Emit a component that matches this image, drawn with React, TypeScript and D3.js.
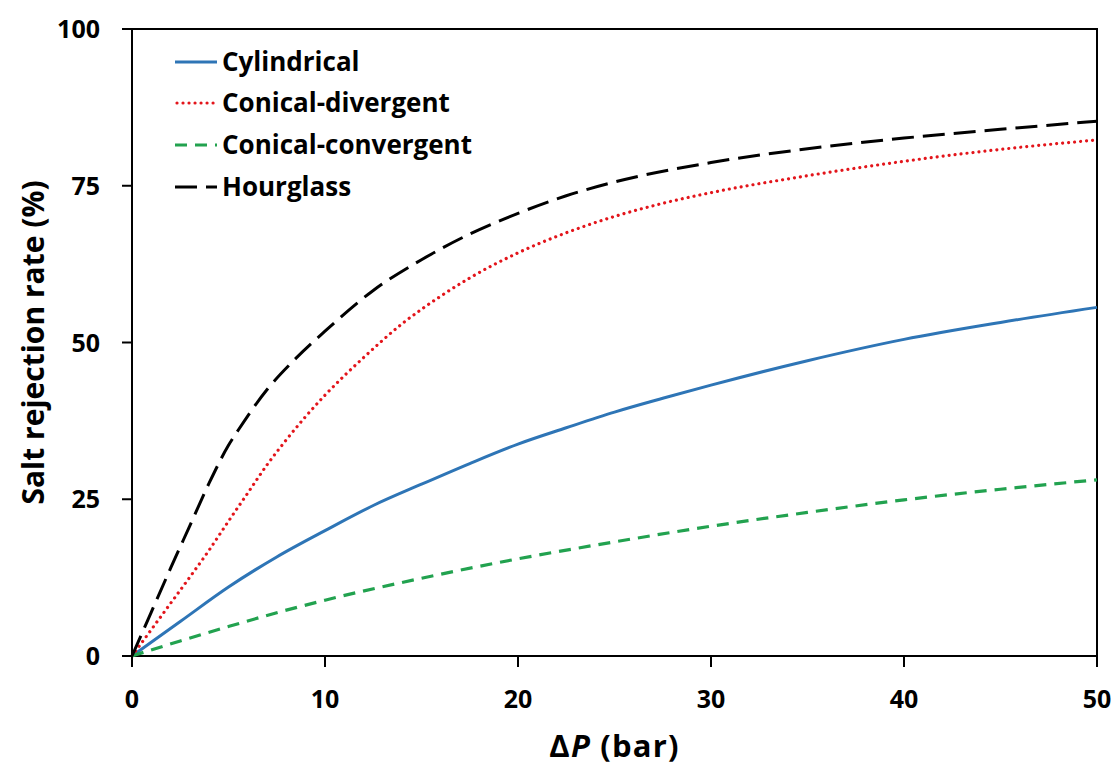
import React from "react";
import * as d3 from "d3";

const W = 1118;
const H = 765;

const xTicks = [0, 10, 20, 30, 40, 50];
const yTicks = [0, 25, 50, 75, 100];

const cylP = [0, 2.5, 5, 7.5, 10, 12.5, 15, 17.5, 20, 22.5, 25, 27.5, 30, 35, 40, 45, 50];
const cylV = [0, 5.5, 11, 15.8, 20, 24, 27.4, 30.7, 33.8, 36.4, 38.9, 41.1, 43.2, 47.1, 50.5, 53.2, 55.6];

const divP = [0, 1, 2, 3, 4, 5, 6, 7, 8, 9, 10, 11, 12, 13, 14, 15, 16, 17.5, 20, 22.5, 25, 27.5, 30, 35, 40, 45, 50];
const divV = [0, 4.2, 8.4, 12.6, 16.9, 21.5, 26, 30.5, 34.5, 38.2, 41.6, 44.7, 47.6, 50.4, 53.0, 55.3, 57.4, 60.3, 64.3, 67.5, 70.1, 72.2, 73.9, 76.6, 78.9, 80.8, 82.3];

const conP = [0, 2.5, 5, 7.5, 10, 15, 20, 25, 30, 35, 40, 45, 50];
const conV = [0, 2.4, 4.7, 6.9, 8.9, 12.4, 15.5, 18.2, 20.7, 22.9, 24.9, 26.6, 28.1];

const hgP = [0, 1, 2, 3, 4, 5, 5.5, 7, 8.5, 10, 12.5, 15, 17.5, 20, 22.5, 25, 30, 35, 40, 45, 50];
const hgV = [0, 7, 14, 20.8, 27.6, 33.6, 36, 42.5, 47.5, 51.8, 58.3, 63.2, 67.3, 70.6, 73.4, 75.6, 78.7, 80.9, 82.6, 84, 85.3];

const seriesNames = ["Cylindrical", "Conical-divergent", "Conical-convergent", "Hourglass"];

const styles = [
  { color: "#2E75B6", width: 3, dash: "none", cap: "butt" },
  { color: "#E3151B", width: 3.2, dash: "0.01 6", cap: "round" },
  { color: "#22A24F", width: 3.2, dash: "12 8", cap: "butt" },
  { color: "#000000", width: 3, dash: "22 9", cap: "butt" },
];

const FONT = "'Open Sans', Lato, sans-serif";

export default function App() {
  const x = d3.scaleLinear().domain([0, 50]).range([132, 1097]);
  const y = d3.scaleLinear().domain([0, 100]).range([656, 29]);

  const data: [number, number][][] = [
    cylP.map((p, i) => [p, cylV[i]]),
    divP.map((p, i) => [p, divV[i]]),
    conP.map((p, i) => [p, conV[i]]),
    hgP.map((p, i) => [p, hgV[i]]),
  ];

  const line = d3
    .line<[number, number]>()
    .x((d) => x(d[0]))
    .y((d) => y(d[1]))
    .curve(d3.curveMonotoneX);

  const legendRows = [62, 103, 145, 187];

  return (
    <svg
      width={W}
      height={H}
      style={{ position: "absolute", left: 0, top: 0, background: "#fff" }}
      fontFamily={FONT}
    >
      <rect x={0} y={0} width={W} height={H} fill="#fff" />
      <rect
        x={x(0)}
        y={y(100)}
        width={x(50) - x(0)}
        height={y(0) - y(100)}
        fill="none"
        stroke="#000"
        strokeWidth={2}
      />
      {data.map((d, i) => (
        <path
          key={i}
          d={line(d) || ""}
          fill="none"
          stroke={styles[i].color}
          strokeWidth={styles[i].width}
          strokeDasharray={styles[i].dash}
          strokeLinecap={styles[i].cap as any}
        />
      ))}
      {xTicks.map((t) => (
        <g key={"x" + t}>
          <line x1={x(t)} x2={x(t)} y1={y(0)} y2={y(0) + 11} stroke="#000" strokeWidth={2} />
          <text x={x(t)} y={708} textAnchor="middle" fontSize={25} fontWeight="bold" fill="#000">
            {t}
          </text>
        </g>
      ))}
      {yTicks.map((t) => (
        <g key={"y" + t}>
          <line x1={x(0) - 10} x2={x(0)} y1={y(t)} y2={y(t)} stroke="#000" strokeWidth={2} />
          <text x={100} y={y(t)} dy="0.36em" textAnchor="end" fontSize={25} fontWeight="bold" fill="#000">
            {t}
          </text>
        </g>
      ))}
      <text
        x={x(25)}
        y={757}
        textAnchor="middle"
        fontSize={31}
        fontWeight="bold"
        letterSpacing={1.2}
        fill="#000"
      >
        <tspan>Δ</tspan>
        <tspan fontStyle="italic">P</tspan>
        <tspan> (bar)</tspan>
      </text>
      <text
        transform={`translate(44, ${y(50)}) rotate(-90)`}
        textAnchor="middle"
        fontSize={30}
        fontWeight="bold"
        fill="#000"
      >
        Salt rejection rate (%)
      </text>
      {seriesNames.map((name, i) => (
        <g key={name}>
          <line
            x1={styles[i].cap === "round" ? 177 : 175}
            x2={217}
            y1={legendRows[i]}
            y2={legendRows[i]}
            stroke={styles[i].color}
            strokeWidth={styles[i].width}
            strokeDasharray={styles[i].dash}
            strokeLinecap={styles[i].cap as any}
          />
          <text x={222} y={legendRows[i]} dy="0.36em" fontSize={26} fontWeight="bold" fill="#000">
            {name}
          </text>
        </g>
      ))}
    </svg>
  );
}
